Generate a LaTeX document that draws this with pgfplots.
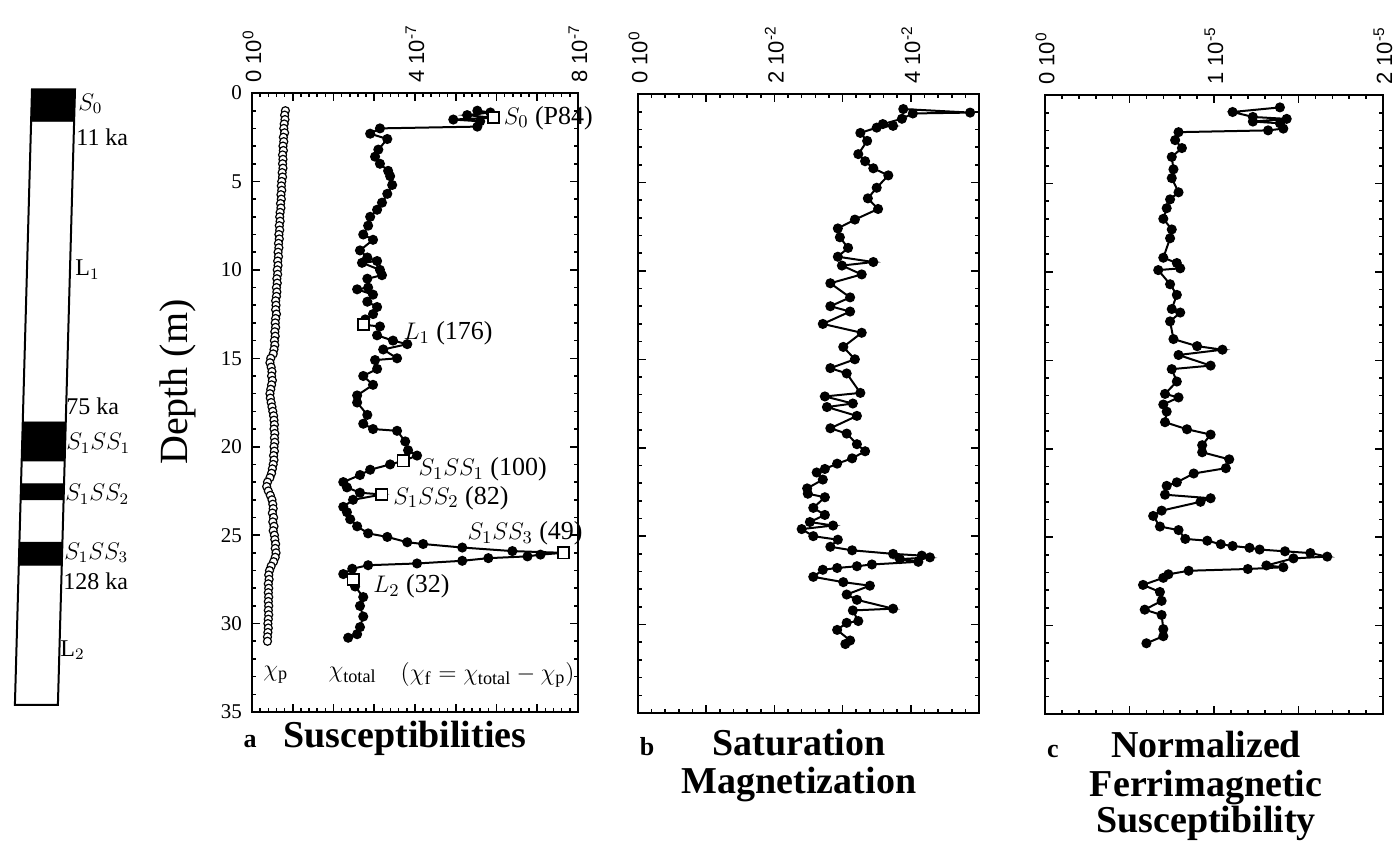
\documentclass[border=0pt]{standalone}
\usepackage{fontspec}
\setmainfont{Liberation Serif}
\newfontfamily\tickfont{Liberation Sans}
\usepackage{pgfplots}
\pgfplotsset{compat=1.18}

\pgfplotsset{
  panel/.style={
    scale only axis, height=309.5pt, anchor=north west,
    ymin=0, ymax=35, y dir=reverse,
    ytick={0,5,...,35}, minor y tick num=4, minor x tick num=4,
    xticklabel pos=upper,
    xticklabel style={font=\tickfont\fontsize{11}{12}\selectfont,
      rotate=90, anchor=west, inner xsep=5pt, inner ysep=0pt},
    axis line style={line width=1pt},
    tick style={line width=0.8pt, black},
    major tick length=3.8pt, minor tick length=2pt,
    clip=false},
  dots/.style={line width=1pt, mark=*, mark size=2pt, mark options={fill=black}},
}

\begin{document}
\begin{tikzpicture}
\useasboundingbox (0,0) rectangle (700pt,-421pt);

% ---------- stratigraphic column ----------
\begin{axis}[at={(0pt,-46.5pt)}, anchor=north west, scale only axis,
  width=50pt, height=309.5pt, xmin=0, xmax=100, ymin=0, ymax=35,
  y dir=reverse, hide axis, clip=false]
  \addplot[draw=black, line width=1pt, fill=white]
    coordinates {(32,-0.2) (75,-0.2) (57.9,34.6) (14.9,34.6)} -- cycle;
  \addplot[draw=black, fill=black]
    coordinates {(32,-0.2) (75,-0.2) (74.1,1.6) (31.1,1.6)} -- cycle;
  \addplot[draw=black, fill=black]
    coordinates {(22.8,18.6) (65.8,18.6) (64.7,20.8) (21.7,20.8)} -- cycle;
  \addplot[draw=black, fill=black]
    coordinates {(21.1,22.1) (64.1,22.1) (63.6,23.0) (20.6,23.0)} -- cycle;
  \addplot[draw=black, fill=black]
    coordinates {(19.5,25.4) (62.5,25.4) (61.8,26.7) (18.8,26.7)} -- cycle;
  \begin{scope}[every node/.style={anchor=west, inner sep=0pt,
      font=\fontsize{12}{13}\selectfont}]
  \node at (axis cs:78,0.6) {$S_0$};
  \node at (axis cs:76,2.5) {11 ka};
  \node at (axis cs:75,10) {L$_1$};
  \node at (axis cs:66,17.7) {75 ka};
  \node at (axis cs:66,19.8) {$S_1SS_1$};
  \node at (axis cs:65,22.7) {$S_1SS_2$};
  \node at (axis cs:64,26.0) {$S_1SS_3$};
  \node at (axis cs:63,27.6) {128 ka};
  \node at (axis cs:60,31.5) {L$_2$};
  \end{scope}
\end{axis}

% ---------- a: susceptibilities ----------
\begin{axis}[panel, at={(126pt,-46.5pt)}, width=163pt,
  xmin=0, xmax=8, xtick={0,1,...,8},
  xticklabels={0 10\textsuperscript{0},,,,4 10\textsuperscript{-7},,,,8 10\textsuperscript{-7}},
  yticklabel style={font=\fontsize{10.5}{12}\selectfont, xshift=-1.5pt},
  /pgf/number format/assume math mode=true]
  % chi_p (paramagnetic)
  \addplot[only marks, mark=*, mark size=2pt, mark options={line width=0.6pt, fill=white}]
    coordinates {(0.82,1.00)(0.80,1.25)(0.81,1.50)(0.79,1.75)(0.78,2.00)(0.80,2.25)
    (0.77,2.50)(0.78,2.75)(0.76,3.00)(0.77,3.25)(0.75,3.50)(0.76,3.75)(0.75,4.00)
    (0.76,4.25)(0.74,4.50)(0.75,4.75)(0.73,5.00)(0.72,5.25)(0.73,5.50)(0.71,5.75)
    (0.72,6.00)(0.70,6.25)(0.71,6.50)(0.69,6.75)(0.68,7.00)(0.69,7.25)(0.67,7.50)
    (0.68,7.75)(0.66,8.00)(0.67,8.25)(0.65,8.50)(0.66,8.75)(0.64,9.00)(0.65,9.25)
    (0.63,9.50)(0.64,9.75)(0.62,10.00)(0.63,10.25)(0.61,10.50)(0.62,10.75)(0.60,11.00)
    (0.61,11.25)(0.60,11.50)(0.58,11.75)(0.59,12.00)(0.58,12.25)(0.60,12.50)(0.58,12.75)
    (0.57,13.00)(0.58,13.25)(0.56,13.50)(0.57,13.75)(0.55,14.00)(0.56,14.25)(0.54,14.50)
    (0.52,14.75)(0.46,15.00)(0.44,15.25)(0.47,15.50)(0.49,15.75)(0.48,16.00)(0.50,16.25)
    (0.48,16.50)(0.46,16.75)(0.44,17.00)(0.45,17.25)(0.47,17.50)(0.49,17.75)(0.51,18.00)
    (0.53,18.25)(0.54,18.50)(0.55,18.75)(0.54,19.00)(0.56,19.25)(0.55,19.50)(0.56,19.75)
    (0.54,20.00)(0.55,20.25)(0.53,20.50)(0.54,20.75)(0.52,21.00)(0.50,21.25)(0.48,21.50)
    (0.44,21.75)(0.38,22.00)(0.36,22.25)(0.40,22.50)(0.45,22.75)(0.49,23.00)(0.51,23.25)
    (0.52,23.50)(0.50,23.75)(0.53,24.00)(0.51,24.25)(0.54,24.50)(0.52,24.75)(0.55,25.00)
    (0.56,25.25)(0.58,25.50)(0.57,25.75)(0.59,26.00)(0.57,26.25)(0.53,26.50)(0.47,26.75)
    (0.43,27.00)(0.41,27.25)(0.42,27.50)(0.40,27.75)(0.41,28.00)(0.40,28.25)(0.41,28.50)
    (0.40,28.75)(0.41,29.00)(0.40,29.25)(0.41,29.50)(0.40,29.75)(0.39,30.00)(0.40,30.25)
    (0.39,30.50)(0.38,30.75)(0.38,31.00)};
  % chi_total
  \addplot[dots] coordinates {
    (5.53,1.0)(5.85,1.1)(5.28,1.25)(5.92,1.4)(4.94,1.5)(5.60,1.6)(5.53,1.9)
    (3.14,2.0)(2.90,2.3)(3.32,2.6)(3.10,3.2)(3.02,3.6)(3.14,4.0)(3.34,4.4)
    (3.39,4.7)(3.44,5.2)(3.32,5.7)(3.19,6.2)(3.07,6.6)(2.90,7.0)(2.85,7.5)
    (2.73,8.0)(2.97,8.3)(2.65,8.9)(2.83,9.3)(3.07,9.5)(2.70,9.6)(3.14,10.0)
    (3.19,10.3)(2.83,10.5)(2.85,11.0)(2.58,11.1)(2.97,11.4)(2.83,11.8)(3.07,12.1)
    (2.97,12.5)(2.78,12.8)(2.73,13.1)(3.14,13.2)(3.07,13.7)(3.46,14.0)(3.81,14.2)
    (3.22,14.5)(3.56,15.0)(3.02,15.1)(3.07,15.6)(2.73,16.0)(2.97,16.5)(2.58,17.1)
    (2.58,17.5)(2.83,18.2)(2.73,18.7)(2.97,19.0)(3.56,19.1)(3.76,19.7)(3.83,20.2)
    (4.05,20.5)(3.71,20.8)(3.39,21.0)(2.90,21.3)(2.65,21.6)(2.24,22.0)(2.33,22.3)
    (2.65,22.6)(3.19,22.7)(2.48,23.0)(2.24,23.4)(2.33,23.7)(2.41,24.1)(2.58,24.5)
    (2.85,24.9)(3.32,25.1)(3.81,25.4)(4.20,25.5)(5.16,25.7)(6.39,25.9)(7.64,26.0)
    (7.08,26.1)(6.76,26.2)(5.80,26.3)(5.16,26.45)(4.05,26.6)(2.85,26.7)(2.46,26.9)
    (2.24,27.2)(2.48,27.5)(2.53,27.9)(2.73,28.5)(2.65,29.0)(2.73,29.6)(2.65,30.2)
    (2.58,30.6)(2.36,30.8)};
  % measured samples
  \addplot[only marks, mark=square*, mark size=2.8pt, mark options={fill=white, draw=black, line width=0.9pt}]
    coordinates {(5.92,1.4)(2.73,13.1)(3.71,20.8)(3.19,22.7)(7.64,26.0)(2.48,27.5)};
  \begin{scope}[every node/.style={anchor=west, inner sep=0pt,
      font=\fontsize{13}{14}\selectfont}]
  \node at (axis cs:6.17,1.4) {$S_0$ (P84)};
  \node at (axis cs:3.71,13.6) {$L_1$ (176)};
  \node at (axis cs:4.08,21.3) {$S_1SS_1$ (100)};
  \node at (axis cs:3.46,22.9) {$S_1SS_2$ (82)};
  \node at (axis cs:5.28,24.9) {$S_1SS_3$ (49)};
  \node at (axis cs:2.97,27.9) {$L_2$ (32)};
  \node at (axis cs:0.27,32.9) {$\chi_{\mathrm{p}}$};
  \node at (axis cs:1.87,32.9) {$\chi_{\mathrm{total}}$};
  \node at (axis cs:3.64,32.9) {$(\chi_{\mathrm{f}} = \chi_{\mathrm{total}} - \chi_{\mathrm{p}})$};
  \end{scope}
\end{axis}

% ---------- b: saturation magnetization ----------
\begin{axis}[panel, at={(319pt,-47pt)}, width=170.5pt,
  xmin=0, xmax=5, xtick={0,1,...,5},
  xticklabels={0 10\textsuperscript{0},,2 10\textsuperscript{-2},,4 10\textsuperscript{-2},},
  yticklabels={}]
  \addplot[dots] coordinates {
    (3.89,0.85)(4.87,1.05)(4.03,1.1)(3.87,1.4)(3.59,1.7)(3.74,1.8)(3.50,1.9)
    (3.26,2.2)(3.36,2.65)(3.23,3.4)(3.33,3.8)(3.45,4.2)(3.67,4.6)(3.50,5.3)
    (3.37,5.9)(3.52,6.5)(3.18,7.1)(2.93,7.6)(2.96,8.1)(3.08,8.7)(2.93,9.2)
    (3.45,9.5)(2.99,9.7)(3.28,10.2)(2.82,10.7)(3.11,11.5)(2.82,12.0)(3.11,12.3)
    (2.71,13.0)(3.28,13.5)(3.01,14.3)(3.18,15.0)(2.82,15.5)(3.06,15.8)(3.26,16.9)
    (2.74,17.1)(3.15,17.5)(2.77,17.7)(3.21,18.2)(2.82,18.9)(3.06,19.2)(3.21,19.8)
    (3.33,20.2)(3.14,20.6)(2.92,20.9)(2.74,21.2)(2.62,21.4)(2.71,21.8)(2.48,22.3)
    (2.49,22.6)(2.74,22.8)(2.57,23.4)(2.74,23.8)(2.52,24.2)(2.86,24.4)(2.40,24.6)
    (2.57,25.0)(2.93,25.2)(2.82,25.6)(3.14,25.8)(3.74,26.0)(4.16,26.1)(4.28,26.2)
    (3.84,26.3)(4.11,26.45)(3.43,26.6)(3.21,26.7)(2.92,26.8)(2.71,26.9)(2.57,27.3)
    (3.01,27.6)(3.40,27.8)(3.06,28.3)(3.21,28.6)(3.74,29.1)(3.15,29.2)(3.23,29.8)
    (3.06,29.9)(2.92,30.3)(3.11,30.9)(3.04,31.1)};
\end{axis}

% ---------- c: normalized ferrimagnetic susceptibility ----------
\begin{axis}[panel, at={(522.5pt,-47.5pt)}, width=169pt,
  xmin=0, xmax=2, xtick={0,0.5,...,2},
  xticklabels={0 10\textsuperscript{0},,1 10\textsuperscript{-5},,2 10\textsuperscript{-5}},
  yticklabels={}]
  \addplot[dots] coordinates {
    (1.39,0.7)(1.11,0.96)(1.23,1.24)(1.43,1.35)(1.23,1.5)(1.39,1.6)(1.41,1.9)
    (1.32,2.0)(0.79,2.1)(0.77,2.55)(0.81,3.0)(0.75,3.5)(0.76,4.2)(0.75,4.7)
    (0.79,5.5)(0.74,5.9)(0.72,6.4)(0.70,7.0)(0.75,7.6)(0.74,8.1)(0.70,9.2)
    (0.78,9.5)(0.80,9.8)(0.67,9.9)(0.74,10.7)(0.78,11.3)(0.75,12.1)(0.80,12.3)
    (0.74,12.8)(0.76,13.8)(0.90,14.2)(1.05,14.4)(0.79,14.7)(0.98,15.3)(0.75,15.5)
    (0.78,16.2)(0.71,16.9)(0.79,17.1)(0.70,17.5)(0.72,17.9)(0.71,18.5)(0.84,18.9)
    (0.98,19.2)(0.93,19.8)(0.93,20.2)(1.09,20.6)(1.07,21.1)(0.88,21.4)(0.78,21.9)
    (0.72,22.1)(0.71,22.6)(0.98,22.8)(0.92,23.0)(0.69,23.5)(0.64,23.8)(0.68,24.4)
    (0.79,24.6)(0.83,25.1)(0.96,25.2)(1.04,25.4)(1.11,25.5)(1.21,25.6)(1.27,25.7)
    (1.42,25.8)(1.57,25.9)(1.67,26.1)(1.47,26.2)(1.31,26.6)(1.41,26.7)(1.20,26.8)
    (0.85,26.9)(0.73,27.1)(0.70,27.3)(0.58,27.7)(0.68,28.1)(0.69,28.6)(0.59,29.1)
    (0.69,29.4)(0.70,30.2)(0.70,30.6)(0.60,31.0)};
\end{axis}

% ---------- labels ----------
\node[rotate=90, font=\fontsize{20}{24}\selectfont] at (89pt,-191pt) {Depth (m)};
\begin{scope}[every node/.style={anchor=base, inner sep=0pt}]
\node[font=\bfseries\fontsize{13}{15}\selectfont] at (125pt,-373.5pt) {a};
\node[font=\bfseries\fontsize{19}{22}\selectfont] at (202.5pt,-373.5pt) {Susceptibilities};
\node[font=\bfseries\fontsize{13}{15}\selectfont] at (323.5pt,-377.5pt) {b};
\node[font=\bfseries\fontsize{19}{22}\selectfont] at (399.5pt,-377.5pt) {Saturation};
\node[font=\bfseries\fontsize{19}{22}\selectfont] at (399.5pt,-396.5pt) {Magnetization};
\node[font=\bfseries\fontsize{13}{15}\selectfont] at (526.5pt,-378.5pt) {c};
\node[font=\bfseries\fontsize{19}{22}\selectfont] at (603pt,-378.5pt) {Normalized};
\node[font=\bfseries\fontsize{19}{22}\selectfont] at (603pt,-398pt) {Ferrimagnetic};
\node[font=\bfseries\fontsize{19}{22}\selectfont] at (603pt,-416.2pt) {Susceptibility};
\end{scope}
\end{tikzpicture}
\end{document}
